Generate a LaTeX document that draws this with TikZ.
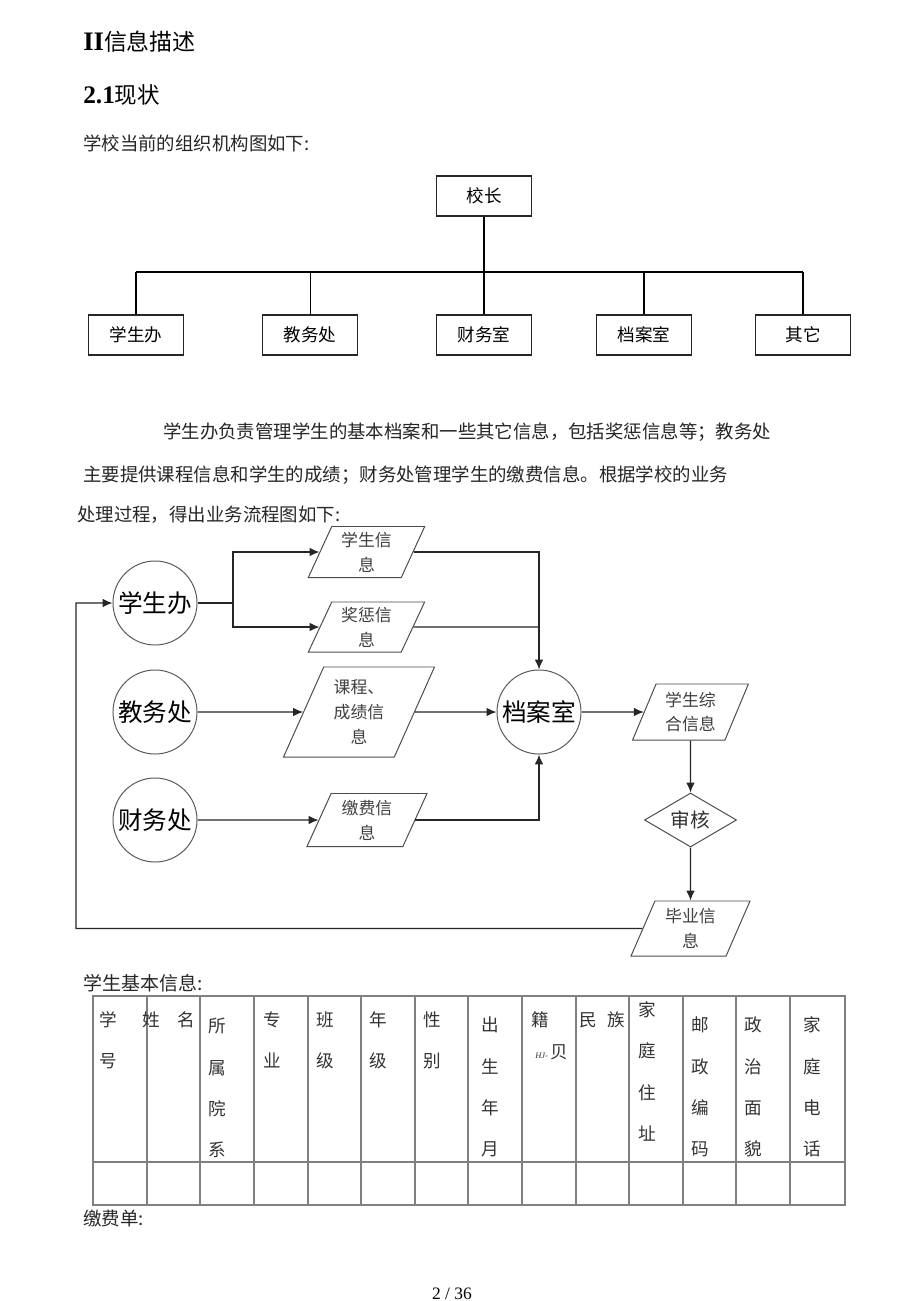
\documentclass[tikz,border=0pt]{standalone}
\usepackage{fontspec}
\setmainfont{Noto Sans CJK SC}
\newfontfamily\lserif{Liberation Serif}
\usetikzlibrary{arrows.meta,shapes.geometric}

\begin{document}
\begin{tikzpicture}[x=0.025cm,y=-0.025cm]
  \tikzstyle{org}=[draw=black!85, line width=1pt, minimum width=2.375cm, minimum height=1cm, inner sep=0, font=\fontsize{12.5}{15}\selectfont]
  \tikzstyle{tree}=[line width=1.45pt, black]
  \tikzstyle{dept}=[circle, draw=black!65, line width=0.7pt, minimum size=2.1cm, inner sep=0, font=\fontsize{17.5}{20}\selectfont]
  \tikzstyle{data}=[trapezium, trapezium left angle=67, trapezium right angle=113, trapezium stretches=true, draw=black!70, line width=0.7pt, inner sep=0, align=center, text=black!75, font=\fontsize{12}{17.7}\selectfont]
  \tikzstyle{check}=[diamond, aspect=1.7, draw=black!70, line width=0.7pt, minimum width=2.3cm, minimum height=1.35cm, inner sep=0, text=black!80, font=\fontsize{14}{16}\selectfont]
  \tikzstyle{connect}=[-{Latex[length=7pt,width=6pt]}, line width=0.8pt, black!85]
  \tikzstyle{flow}=[line width=0.8pt, black!85]
  \tikzstyle{txt}=[anchor=west, inner sep=0, text=black!85, font=\fontsize{13.1}{16}\selectfont]
  \tikzstyle{cell}=[inner sep=0, align=center, text=black!80, font=\fontsize{12.5}{29.3}\selectfont]
  \tikzstyle{grid}=[line width=0.9pt, black!50]
  \useasboundingbox (0,0) rectangle (920,1301);
  \fill[white] (0,0) rectangle (920,1301);

  % headings
  \node[txt, text=black, font=\fontsize{16.3}{20}\selectfont] (h1) at (83,42) {{\lserif\bfseries\fontsize{19}{20}\selectfont II}信息描述};
  \node[txt, text=black, font=\fontsize{16}{20}\selectfont] (h2) at (83,95) {{\lserif\bfseries\fontsize{18}{20}\selectfont 2.1}现状};
  \node[txt] (p0) at (83,143) {学校当前的组织机构图如下:};

  % org chart
  \node[org] (xz) at (484,196) {校长};
  \node[org] (o1) at (136,335) {学生办};
  \node[org] (o2) at (310,335) {教务处};
  \node[org] (o3) at (484,335) {财务室};
  \node[org] (o4) at (644,335) {档案室};
  \node[org] (o5) at (803,335) {其它};
  \coordinate (bus) at (484,272);
  \draw[tree] (xz) -- (bus);
  \draw[line width=1pt] (o1.north |- bus) -- (o5.north |- bus);
  \foreach \b in {o1,o3,o4,o5}
    \draw[tree] (\b.north) -- (\b.north |- bus);
  \draw[line width=0.7pt] (o2.north) -- (o2.north |- bus);

  % text
  \node[txt] (p1) at (163,432) {学生办负责管理学生的基本档案和一些其它信息，包括奖惩信息等；教务处};
  \node[txt] (p2) at (83,475) {主要提供课程信息和学生的成绩；财务处管理学生的缴费信息。根据学校的业务};
  \node[txt] (p3) at (77,515) {处理过程，得出业务流程图如下:};

  % flow chart
  \node[dept] (xsb) at (155,603) {学生办};
  \node[dept] (jwc) at (155,712) {教务处};
  \node[dept] (cwc) at (155,820) {财务处};
  \node[dept] (dash) at (539,712) {档案室};
  \node[data, minimum width=2.925cm, minimum height=1.275cm] (xsxx) at (366.5,552) {学生信\\息};
  \node[data, minimum width=2.925cm, minimum height=1.25cm] (jcxx) at (366.5,627) {奖惩信\\息};
  \node[data, minimum width=3.8cm, minimum height=2.25cm, trapezium left angle=66, trapezium right angle=114] (kc) at (359,712) {课程、\\成绩信\\息};
  \node[data, minimum width=3cm, minimum height=1.325cm] (jf) at (367,820) {缴费信\\息};
  \node[data, minimum width=2.9cm, minimum height=1.4cm] (zh) at (690.5,712) {学生综\\合信息};
  \node[check] (sh) at (690.5,820) {审核};
  \node[data, minimum width=2.975cm, minimum height=1.375cm] (by) at (690.5,928.5) {毕业信\\息};

  \coordinate (split) at (233,603);
  \coordinate (back) at (76,928.5);
  \draw[flow] (xsb) -- (split);
  \draw[connect] (split) |- (xsxx);
  \draw[connect] (split) |- (jcxx);
  \draw[connect] (xsxx) -| (dash);
  \draw[flow] (jcxx) -- (jcxx -| dash);
  \draw[connect] (jwc) -- (kc);
  \draw[connect] (kc) -- (dash);
  \draw[connect] (cwc) -- (jf);
  \draw[connect] (jf) -| (dash);
  \draw[connect] (dash) -- (zh);
  \draw[connect] (zh) -- (sh);
  \draw[connect] (sh) -- (by);
  \draw[connect] (by) -- (back) |- (xsb);

  % table
  \node[txt, font=\fontsize{13.5}{16}\selectfont] (t0) at (83,983) {学生基本信息:};
  \draw[grid] (93,996) rectangle (845,1205);
  \draw[grid] (93,1162) -- (845,1162);
  \foreach \x in {147,200,254,308,361,415,468,522,576,629,683,736,790}
    \draw[grid] (\x,996) -- (\x,1205);
  \node[cell] (c1) at (108,1040) {学\\号};
  \node[cell] (c2) at (169,1020) {姓\quad 名};
  \node[cell] (c3) at (217,1088) {所\\属\\院\\系};
  \node[cell] (c4) at (272,1040) {专\\业};
  \node[cell] (c5) at (325,1040) {班\\级};
  \node[cell] (c6) at (378,1040) {年\\级};
  \node[cell] (c7) at (432,1040) {性\\别};
  \node[cell] (c8) at (490,1087) {出\\生\\年\\月};
  \node[cell] (c9) at (540,1020) {籍};
  \node[cell, anchor=west] (c9b) at (535,1052) {{\lserif\itshape\fontsize{6}{7}\selectfont HJ-}\,贝};
  \node[cell] (c10) at (602,1020) {民\hspace{0.6em}族};
  \node[cell] (c11) at (647,1071.5) {家\\庭\\住\\址};
  \node[cell] (c12) at (700,1087) {邮\\政\\编\\码};
  \node[cell] (c13) at (753,1087) {政\\治\\面\\貌};
  \node[cell] (c14) at (812,1087) {家\\庭\\电\\话};
  \node[txt] (t1) at (83,1218) {缴费单:};
  \node[inner sep=0, font=\lserif\fontsize{12.4}{15}\selectfont] (pg) at (452,1294) {2 / 36};
\end{tikzpicture}
\end{document}
